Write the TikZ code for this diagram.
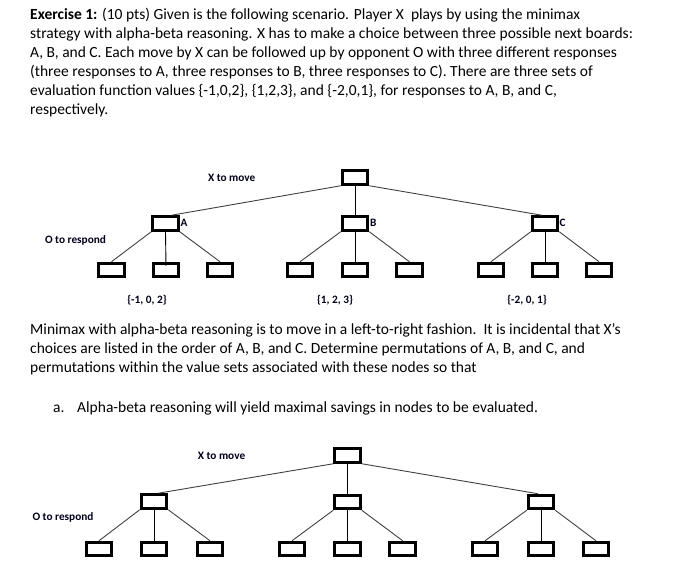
\documentclass[tikz,border=0pt]{standalone}
\usepackage{fontspec}
\setmainfont{Carlito}
\begin{document}
\begin{tikzpicture}[x=1pt,y=-1pt,
  board/.style={draw=black,line width=3pt,minimum width=25.5pt,minimum height=13.5pt,inner sep=0pt,fill=white},
  edge/.style={draw=black!75,line width=0.9pt},
  lbl/.style={font=\fontsize{11.3}{13}\selectfont\bfseries,inner sep=0pt,text=black!90!blue},
  txt/.style={font=\fontsize{15.5}{19}\selectfont,anchor=base west,inner sep=0pt}]
\useasboundingbox (0,0) rectangle (693,580);
% paragraph 1
\node[txt] (p1) at (30,19.3) {\textbf{Exercise 1:} (10 pts) Given is the following scenario. Player X\ \ plays by using the minimax};
\node[txt] (p2) at (30,38.5) {strategy with alpha-beta reasoning. X has to make a choice between three possible next boards:};
\node[txt] (p3) at (30,57.6) {A, B, and C. Each move by X can be followed up by opponent O with three different responses};
\node[txt] (p4) at (30,76.8) {(three responses to A, three responses to B, three responses to C). There are three sets of};
\node[txt] (p5) at (30,95.9) {evaluation function values \{-1,0,2\}, \{1,2,3\}, and \{-2,0,1\}, for responses to A, B, and C,};
\node[txt] (p6) at (30,115) {respectively.};
% tree 1
\node[board] (r) at (355,177.5) {};
\node[board] (a) at (165.5,223.5) {};
\node[board] (b) at (355,223.5) {};
\node[board] (c) at (545,223.5) {};
\node[board] (a1) at (111.5,270) {};
\node[board] (a2) at (166,270) {};
\node[board] (a3) at (220,270) {};
\node[board] (b1) at (300,270) {};
\node[board] (b2) at (355,270) {};
\node[board] (b3) at (409.5,270) {};
\node[board] (c1) at (491,270) {};
\node[board] (c2) at (545,270) {};
\node[board] (c3) at (599,270) {};
\draw[edge] (r.south west) -- ([xshift=6pt]a.north);
\draw[edge,black] (r.south) -- (b.north);
\draw[edge] (r.south east) -- ([xshift=-3pt]c.north);
\foreach \p in {a,b,c}{
  \draw[edge] (\p.south west) -- (\p1.north);
  \draw[edge] (\p.south east) -- (\p3.north);
}
\draw[edge,black] (a.south) -- ([yshift=-4pt]a2.north);
\draw[edge,black] (b.south) -- (b2.north);
\draw[edge,black] (c.south) -- (c2.north);
\node[lbl] (xm1) at (231.7,178) {X to move};
\node[lbl] (or1) at (75.5,240) {O to respond};
\node[lbl,anchor=west] (la) at (180.5,223) {A};
\node[lbl,anchor=west] (lb) at (370,223) {B};
\node[lbl,anchor=west] (lc) at (559.5,223) {C};
\node[lbl] (v1) at (147,300) {\{-1, 0, 2\}};
\node[lbl] (v2) at (335,300) {\{1, 2, 3\}};
\node[lbl] (v3) at (527,300) {\{-2, 0, 1\}};
% paragraph 2
\node[txt] (q1) at (30,334) {Minimax with alpha-beta reasoning is to move in a left-to-right fashion.\ \ It is incidental that X’s};
\node[txt] (q2) at (30,353.3) {choices are listed in the order of A, B, and C. Determine permutations of A, B, and C, and};
\node[txt] (q3) at (30,372.6) {permutations within the value sets associated with these nodes so that};
\node[txt] (qa) at (53,412.7) {a.};
\node[txt] (qb) at (77,412.7) {Alpha-beta reasoning will yield maximal savings in nodes to be evaluated.};
% tree 2
\node[board] (s) at (347.5,455.5) {};
\node[board] (d) at (154,501.5) {};
\node[board] (e) at (347.5,502) {};
\node[board] (f) at (541,502) {};
\node[board] (d1) at (99,549) {};
\node[board] (d2) at (154,549) {};
\node[board] (d3) at (210,549) {};
\node[board] (e1) at (292,549) {};
\node[board] (e2) at (347.5,549) {};
\node[board] (e3) at (402.7,549) {};
\node[board] (f1) at (485,549) {};
\node[board] (f2) at (541,549) {};
\node[board] (f3) at (596,549) {};
\draw[edge] (s.south west) -- ([xshift=4pt]d.north);
\draw[edge,black] (s.south) -- (e.north);
\draw[edge] (s.south east) -- ([xshift=-3pt]f.north);
\foreach \p in {d,e,f}{
  \draw[edge] (\p.south west) -- (\p1.north);
  \draw[edge,black] (\p.south) -- (\p2.north);
  \draw[edge] (\p.south east) -- (\p3.north);
}
\node[lbl] (xm2) at (221.5,455.7) {X to move};
\node[lbl] (or2) at (63,517.7) {O to respond};
\end{tikzpicture}
\end{document}
